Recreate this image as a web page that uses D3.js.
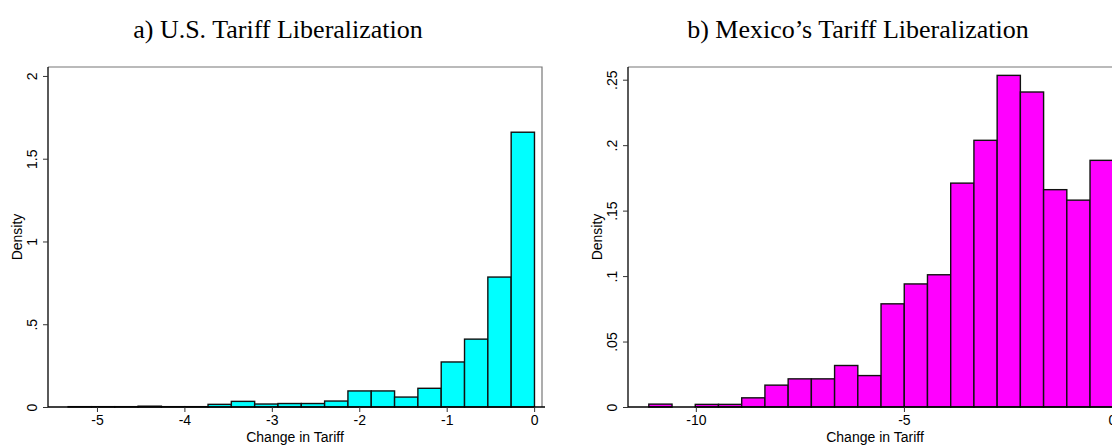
<!DOCTYPE html>
<html>
<head>
<meta charset="utf-8">
<script src="https://cdn.jsdelivr.net/npm/d3@7"></script>
<style>
  body { margin: 0; background: #fff; }
  svg { display: block; }
</style>
</head>
<body>
<div id="chart"></div>
<script>

// data
// a) U.S. tariff change, 20 bins
const usBinStart = -5.33
const usBinWidth = 0.2667
const usDensity = [0.002, 0.002, 0.002, 0.005, 0.002, 0.002, 0.016, 0.034, 0.018, 0.021,
                   0.021, 0.036, 0.097, 0.097, 0.06, 0.113, 0.272, 0.41, 0.785, 1.66]
const usXTicks = [-5, -4, -3, -2, -1, 0]
const usYTicks = [0, 0.5, 1, 1.5, 2]

// b) Mexico tariff change, 20 bins
const mxBinStart = -11.13
const mxBinWidth = 0.558
const mxDensity = [0.0022, 0, 0.002, 0.002, 0.007, 0.0167, 0.0215, 0.0215, 0.0317, 0.024,
                   0.0788, 0.094, 0.101, 0.171, 0.2037, 0.2533, 0.2406, 0.166, 0.158, 0.1884]
const mxXTicks = [-10, -5, 0]
const mxYTicks = [0, 0.05, 0.1, 0.15, 0.2, 0.25]

const titles = ['a) U.S. Tariff Liberalization', 'b) Mexico\u2019s Tariff Liberalization']
const xLabel = 'Change in Tariff'
const yLabel = 'Density'

// chart setting
const chart = {
  'width' : 1112,
  'height' : 446,
  'plotTop' : 67,
  'plotBottom' : 407
}

const panels = [
  {title: titles[0], left: 48, right: 542, xDomain: [-5.56, 0.09], yMax: 2.054,
   start: usBinStart, step: usBinWidth, values: usDensity, xTicks: usXTicks, yTicks: usYTicks,
   fill: '#00ffff', titleX: 278},
  {title: titles[1], left: 628, right: 1122, xDomain: [-11.63, 0.24], yMax: 0.2597,
   start: mxBinStart, step: mxBinWidth, values: mxDensity, xTicks: mxXTicks, yTicks: mxYTicks,
   fill: '#ff00ff', titleX: 858}
]

const svg = d3.select('#chart')
  .append('svg')
    .attr('width', chart.width)
    .attr('height', chart.height)
    .attr('viewBox', `0 0 ${chart.width} ${chart.height}`)

function fmtTick (v){
  // stata style: .5 instead of 0.5
  if (v === 0) return '0'
  return String(v).replace(/^(-?)0\./, '$1.')
}

function drawPanel (p){
  const g = svg.append('g')
  const pTop = chart.plotTop
  const pBottom = chart.plotBottom

  const xScale = d3.scaleLinear()
    .domain(p.xDomain)
    .range([p.left, p.right])

  const yScale = d3.scaleLinear()
    .domain([0, p.yMax])
    .range([pBottom, pTop])

  const bins = p.values.map((v, i) => ({x0: p.start + i * p.step, x1: p.start + (i + 1) * p.step, y: v}))

  // title
  svg.append('text')
    .attr('x', p.titleX)
    .attr('y', 38)
    .attr('text-anchor', 'middle')
    .style('font-family', '"Liberation Serif", "Times New Roman", serif')
    .style('font-size', '26px')
    .text(p.title)

  // plot frame (top / right)
  g.append('path')
    .attr('d', `M${p.left},${pTop}H${p.right}V${pBottom}`)
    .attr('fill', 'none')
    .attr('stroke', '#777')
    .attr('stroke-width', 1.2)

  // bars
  g.selectAll('rect.bar')
    .data(bins.filter(d => d.y > 0))
    .join('rect')
      .attr('class', 'bar')
      .attr('x', d => xScale(d.x0))
      .attr('y', d => yScale(d.y))
      .attr('width', d => xScale(d.x1) - xScale(d.x0))
      .attr('height', d => yScale(0) - yScale(d.y))
      .attr('fill', p.fill)
      .attr('stroke', '#111')
      .attr('stroke-width', 1.4)

  const font = 'Arial, "Liberation Sans", sans-serif'

  // x axis
  const xAxis = g.append('g')
    .attr('transform', `translate(0,${pBottom})`)
    .call(d3.axisBottom(xScale).tickValues(p.xTicks).tickSize(5).tickPadding(3).tickFormat(fmtTick))
  xAxis.select('.domain').attr('d', `M${p.left},0H${p.right + 3}`).attr('stroke-width', 1.3)
  xAxis.selectAll('.tick line').attr('stroke', '#333')
  xAxis.selectAll('text')
    .style('font-family', font)
    .style('font-size', '14px')
    .attr('fill', '#000')

  // y axis
  const yAxis = g.append('g')
    .attr('transform', `translate(${p.left},0)`)
    .call(d3.axisLeft(yScale).tickValues(p.yTicks).tickSize(5).tickFormat(fmtTick))
  yAxis.select('.domain').attr('d', `M0,${pTop}V${pBottom}`).attr('stroke-width', 1.3)
  yAxis.selectAll('.tick line').attr('stroke', '#333')
  yAxis.selectAll('text')
    .attr('x', 0)
    .attr('dy', 0)
    .attr('transform', 'translate(-11,0) rotate(-90)')
    .attr('text-anchor', 'middle')
    .style('font-family', font)
    .style('font-size', '14px')
    .attr('fill', '#000')

  // axis titles
  g.append('text')
    .attr('x', (p.left + p.right) / 2)
    .attr('y', 442)
    .attr('text-anchor', 'middle')
    .style('font-family', font)
    .style('font-size', '14px')
    .text(xLabel)

  g.append('text')
    .attr('transform', `translate(${p.left - 26},${(pTop + pBottom) / 2}) rotate(-90)`)
    .attr('text-anchor', 'middle')
    .style('font-family', font)
    .style('font-size', '14px')
    .text(yLabel)
}

panels.forEach(p => drawPanel(p))

</script>
</body>
</html>
